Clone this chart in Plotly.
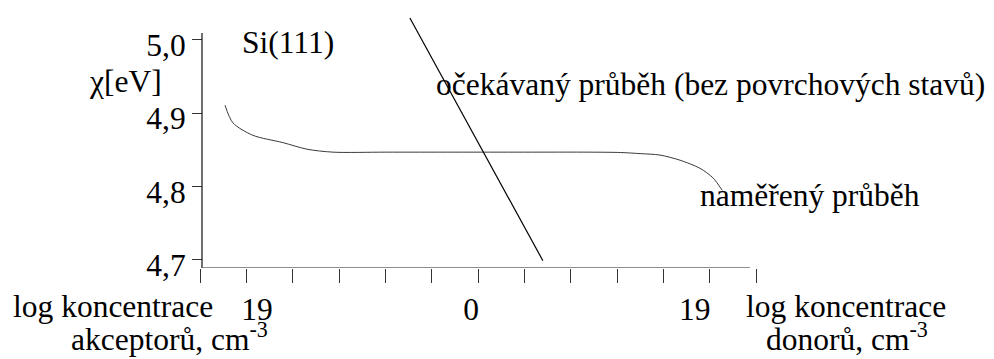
import plotly.graph_objects as go

# Measured work function χ of Si(111) versus doping (ticks in log-concentration steps)
measured_x = [0.54, 0.71, 1.14, 1.79, 2.31, 2.87, 4.0, 5.5, 7.0, 8.42, 9.07, 9.50, 9.93, 10.36, 10.79, 11.07, 11.27]
measured_y = [4.911, 4.887, 4.870, 4.860, 4.851, 4.847, 4.847, 4.847, 4.847, 4.847, 4.8465, 4.845, 4.843, 4.836, 4.825, 4.812, 4.795]

# Expected course without surface states
expected_x = [4.53, 7.40]
expected_y = [5.030, 4.699]

# Axis ticks and labels
y_ticks = [5.0, 4.9, 4.8, 4.7]
y_ticktext = ["5,0", "4,9", "4,8", "4,7"]
x_label_pos = [1.23, 5.85, 10.68]
x_label_text = ["19", "0", "19"]
x_tick_count = 12

FONT = "Liberation Serif"
FS = 31.5
W, H = 994, 359
L, R, T, B = 200, 238, 0, 91
Y_MIN, Y_MAX = 4.689, 5.0545
X_MIN, X_MAX = 0, x_tick_count


def px(xp):
    return (xp - L) / (W - L - R)


def py(yp):
    return (H - B - yp) / (H - T - B)


fig = go.Figure()
fig.add_trace(go.Scatter(x=measured_x, y=measured_y, mode="lines",
                         line=dict(color="#3a3a3a", width=1, shape="spline", smoothing=0.8),
                         hoverinfo="skip"))
fig.add_trace(go.Scatter(x=expected_x, y=expected_y, mode="lines",
                         line=dict(color="#000000", width=1.2),
                         hoverinfo="skip"))

axis_color = "#333333"
# axis lines
fig.add_shape(type="line", xref="x", yref="y", x0=0.043, x1=0.043, y0=Y_MIN, y1=5.0095,
              line=dict(color="#222222", width=1.3))
fig.add_shape(type="line", xref="x", yref="y", x0=0.043, x1=11.87, y0=Y_MIN, y1=Y_MIN,
              line=dict(color="#6a6a6a", width=1.6))

fig.update_layout(
    width=W, height=H,
    margin=dict(l=L, r=R, t=T, b=B, pad=0),
    paper_bgcolor="white", plot_bgcolor="white",
    showlegend=False,
    font=dict(family=FONT, size=FS, color="black"),
    xaxis=dict(range=[X_MIN, X_MAX], showgrid=False, zeroline=False, showline=False,
               tickmode="array", tickvals=x_label_pos, ticktext=x_label_text,
               ticks="", ticklabelstandoff=19,
               tickfont=dict(family=FONT, size=FS, color="black"),
               minor=dict(ticks="outside", tick0=0, dtick=1, ticklen=14,
                          tickwidth=1.2, tickcolor=axis_color, showgrid=False)),
    yaxis=dict(range=[Y_MIN, Y_MAX], showgrid=False, zeroline=False, showline=False,
               anchor="free", position=px(202),
               tickmode="array", tickvals=y_ticks, ticktext=y_ticktext,
               ticks="outside", ticklen=10, tickwidth=1, tickcolor=axis_color,
               ticklabelshift=5,
               tickfont=dict(family=FONT, size=FS, color="black")),
)

ann = dict(xref="paper", yref="paper", showarrow=False, font=dict(family=FONT, size=FS, color="black"))
fig.add_annotation(text="Si(111)", x=px(240), y=py(43), xanchor="left", yanchor="middle", **ann)
fig.add_annotation(text="χ[eV]", x=px(87), y=py(81), xanchor="left", yanchor="middle", **ann)
fig.add_annotation(text="očekávaný průběh (bez povrchových stavů)", x=px(434), y=py(84),
                   xanchor="left", yanchor="middle", **ann)
fig.add_annotation(text="naměřený průběh", x=px(698), y=py(195), xanchor="left", yanchor="middle", **ann)
fig.add_annotation(text="log koncentrace", x=px(11), y=py(306), xanchor="left", yanchor="middle", **ann)
fig.add_annotation(text="akceptorů, cm<sup>-3</sup>", x=px(69), y=py(337), xanchor="left", yanchor="middle", **ann)
fig.add_annotation(text="log koncentrace", x=px(744), y=py(306), xanchor="left", yanchor="middle", **ann)
fig.add_annotation(text="donorů, cm<sup>-3</sup>", x=px(764), y=py(337), xanchor="left", yanchor="middle", **ann)

fig.write_html("out.html")
